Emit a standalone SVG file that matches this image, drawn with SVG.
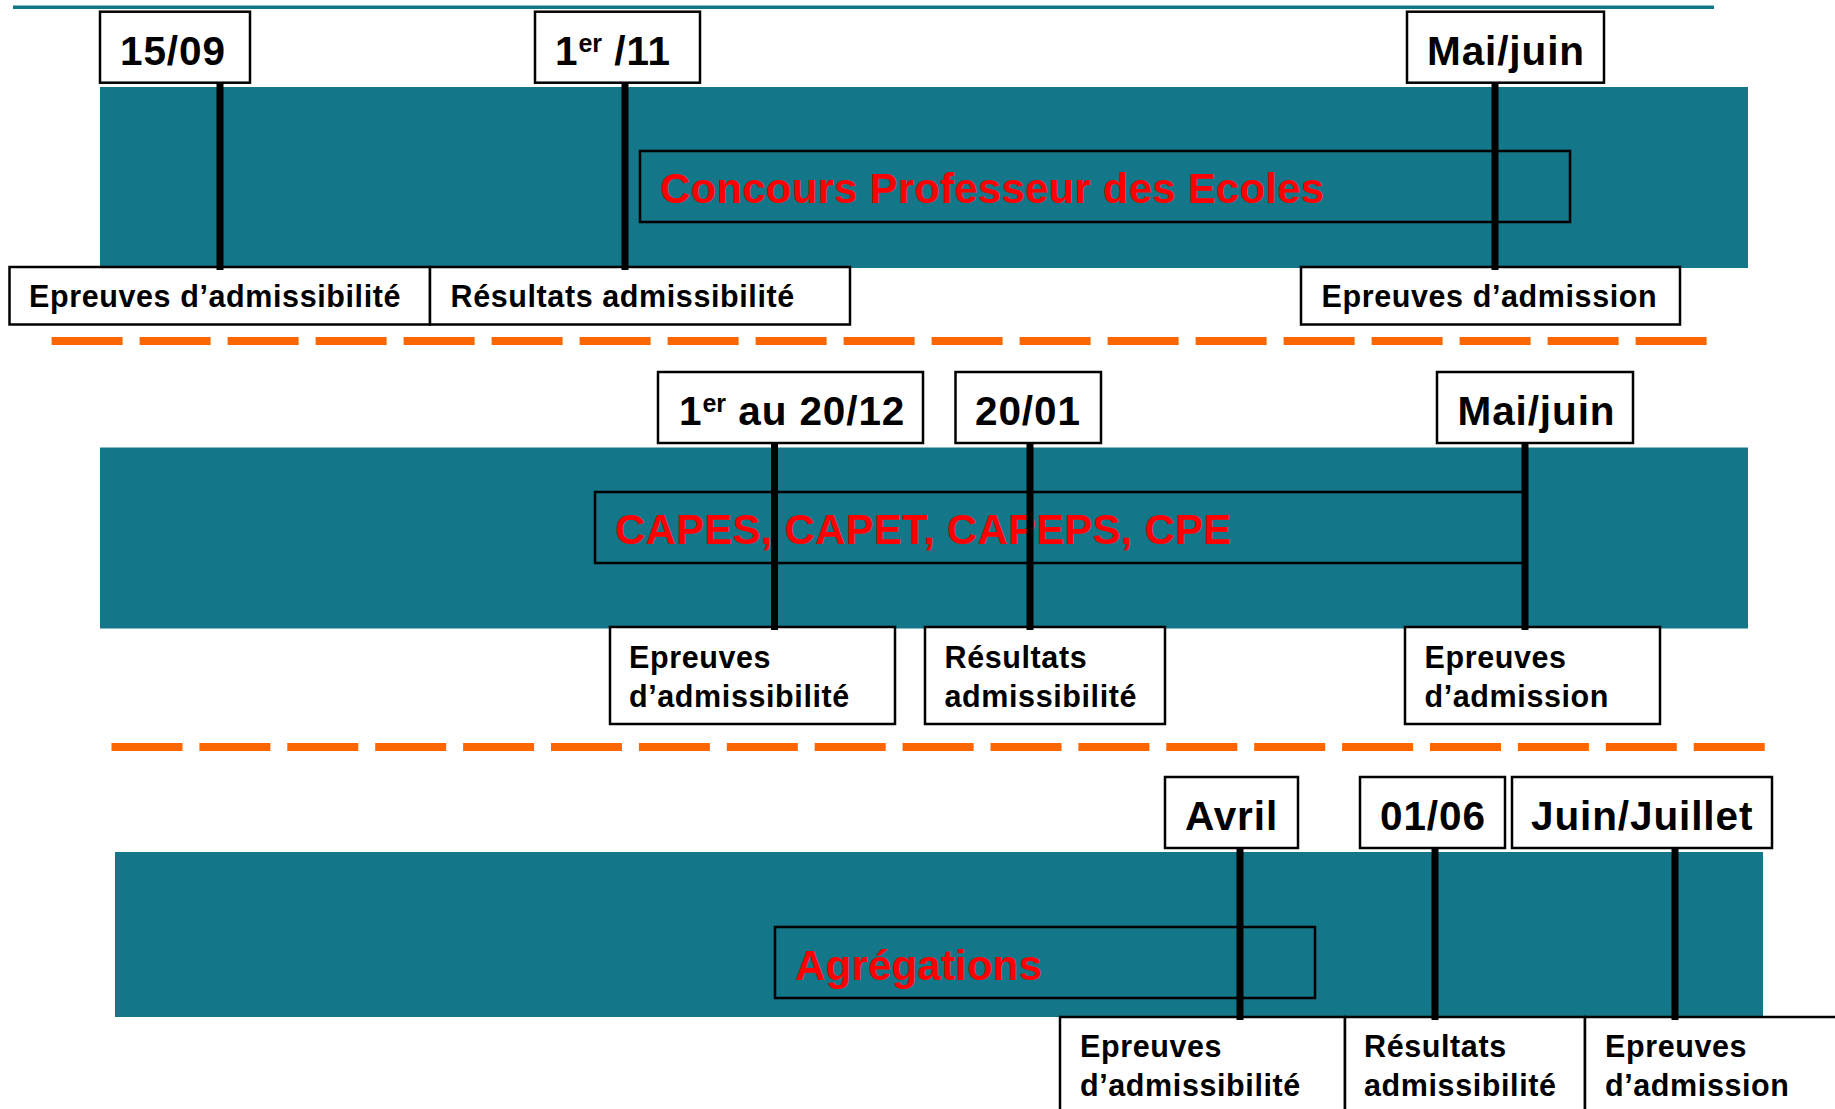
<svg xmlns="http://www.w3.org/2000/svg" width="1835" height="1109" viewBox="0 0 1835 1109">
<style>
  .band{fill:#137689}
  .box{fill:#fff;stroke:#000;stroke-width:2.5}
  .inner{fill:none;stroke:#000;stroke-width:2.5}
  .date{font-family:"Liberation Sans",Arial,sans-serif;font-weight:bold;font-size:40.5px;letter-spacing:0.9px;fill:#000}
  .sup{font-size:25px;letter-spacing:0}
  .lab{font-family:"Liberation Sans",Arial,sans-serif;font-weight:bold;font-size:30.5px;letter-spacing:0.6px;fill:#000}
  .title{font-family:"Liberation Sans",Arial,sans-serif;font-weight:bold;font-size:42px;letter-spacing:0.2px;fill:#ff0000}
  .tick{stroke:#000;stroke-width:7}
  .sep{stroke:#ff6600;stroke-width:8;fill:none}
</style>
<rect width="1835" height="1109" fill="#fff"/>
<line x1="13" y1="7.3" x2="1714" y2="7.3" stroke="#137689" stroke-width="3.5"/>

<!-- bands -->
<g id="band1"><rect class="band" x="100" y="87" width="1648" height="181"/>
  <rect class="inner" x="640" y="151" width="930" height="71"/>
  <text class="title" x="660" y="203">Concours Professeur des Ecoles</text></g>
<g id="band2"><rect class="band" x="100" y="447.5" width="1648" height="181"/>
  <rect class="inner" x="595" y="492" width="929" height="71"/>
  <text class="title" x="615" y="544">CAPES, CAPET, CAPEPS, CPE</text></g>
<g id="band3"><rect class="band" x="115" y="852" width="1648" height="165"/>
  <rect class="inner" x="775" y="927" width="540" height="71"/>
  <text class="title" x="795" y="980">Agrégations</text></g>

<!-- separators -->
<line class="sep" x1="51.6" y1="341" x2="1707" y2="341" stroke-dasharray="71 17"/>
<line class="sep" x1="111.5" y1="747" x2="1766" y2="747" stroke-dasharray="71 16.9"/>

<!-- top date boxes -->
<g id="d1"><rect class="box" x="100" y="11.7" width="150" height="71"/><text class="date" x="120" y="65">15/09</text></g>
<g id="d2"><rect class="box" x="535" y="11.7" width="165" height="71"/><text class="date" x="555" y="65">1<tspan class="sup" dy="-13">er</tspan><tspan dy="13"> /11</tspan></text></g>
<g id="d3"><rect class="box" x="1407" y="11.7" width="197" height="71"/><text class="date" x="1427" y="65">Mai/juin</text></g>

<g id="d4"><rect class="box" x="658" y="372" width="265" height="71"/><text class="date" x="679" y="425">1<tspan class="sup" dy="-13">er</tspan><tspan dy="13"> au 20/12</tspan></text></g>
<g id="d5"><rect class="box" x="955.5" y="372" width="145.5" height="71"/><text class="date" x="975" y="425">20/01</text></g>
<g id="d6"><rect class="box" x="1437" y="372" width="196" height="71"/><text class="date" x="1457.5" y="425">Mai/juin</text></g>

<g id="d7"><rect class="box" x="1165" y="777" width="133" height="71"/><text class="date" x="1185" y="829.5">Avril</text></g>
<g id="d8"><rect class="box" x="1360" y="777" width="145" height="71"/><text class="date" x="1380" y="829.5">01/06</text></g>
<g id="d9"><rect class="box" x="1512" y="777" width="260" height="71"/><text class="date" x="1531" y="829.5">Juin/Juillet</text></g>

<!-- bottom label boxes -->
<g id="l1"><rect class="box" x="9.5" y="267" width="420.5" height="57.5"/><text class="lab" x="29" y="307">Epreuves d’admissibilité</text></g>
<g id="l2"><rect class="box" x="430" y="267" width="420" height="57.5"/><text class="lab" x="450.5" y="307">Résultats admissibilité</text></g>
<g id="l3"><rect class="box" x="1301" y="267" width="379" height="57.5"/><text class="lab" x="1321.5" y="307">Epreuves d’admission</text></g>

<g id="l4"><rect class="box" x="610" y="627" width="285" height="97"/><text class="lab" x="629" y="668">Epreuves</text><text class="lab" x="629" y="706.5">d’admissibilité</text></g>
<g id="l5"><rect class="box" x="925" y="627" width="240" height="97"/><text class="lab" x="944.5" y="668">Résultats</text><text class="lab" x="944.5" y="706.5">admissibilité</text></g>
<g id="l6"><rect class="box" x="1405" y="627" width="255" height="97"/><text class="lab" x="1424.5" y="668">Epreuves</text><text class="lab" x="1424.5" y="706.5">d’admission</text></g>

<g id="l7"><rect class="box" x="1060" y="1017" width="285" height="120"/><text class="lab" x="1080" y="1057">Epreuves</text><text class="lab" x="1080" y="1096">d’admissibilité</text></g>
<g id="l8"><rect class="box" x="1345" y="1017" width="240" height="120"/><text class="lab" x="1364" y="1057">Résultats</text><text class="lab" x="1364" y="1096">admissibilité</text></g>
<g id="l9"><rect class="box" x="1585" y="1017" width="270" height="120"/><text class="lab" x="1605" y="1057">Epreuves</text><text class="lab" x="1605" y="1096">d’admission</text></g>

<!-- connectors -->
<g id="connectors">
  <line class="tick" x1="220" y1="83" x2="220" y2="270"/>
  <line class="tick" x1="625" y1="83" x2="625" y2="270"/>
  <line class="tick" x1="1495" y1="83" x2="1495" y2="270"/>
  <line class="tick" x1="774.5" y1="443" x2="774.5" y2="630"/>
  <line class="tick" x1="1030" y1="443" x2="1030" y2="630"/>
  <line class="tick" x1="1525" y1="443" x2="1525" y2="630"/>
  <line class="tick" x1="1240" y1="848" x2="1240" y2="1020"/>
  <line class="tick" x1="1435" y1="848" x2="1435" y2="1020"/>
  <line class="tick" x1="1675" y1="848" x2="1675" y2="1020"/>
</g>
</svg>
